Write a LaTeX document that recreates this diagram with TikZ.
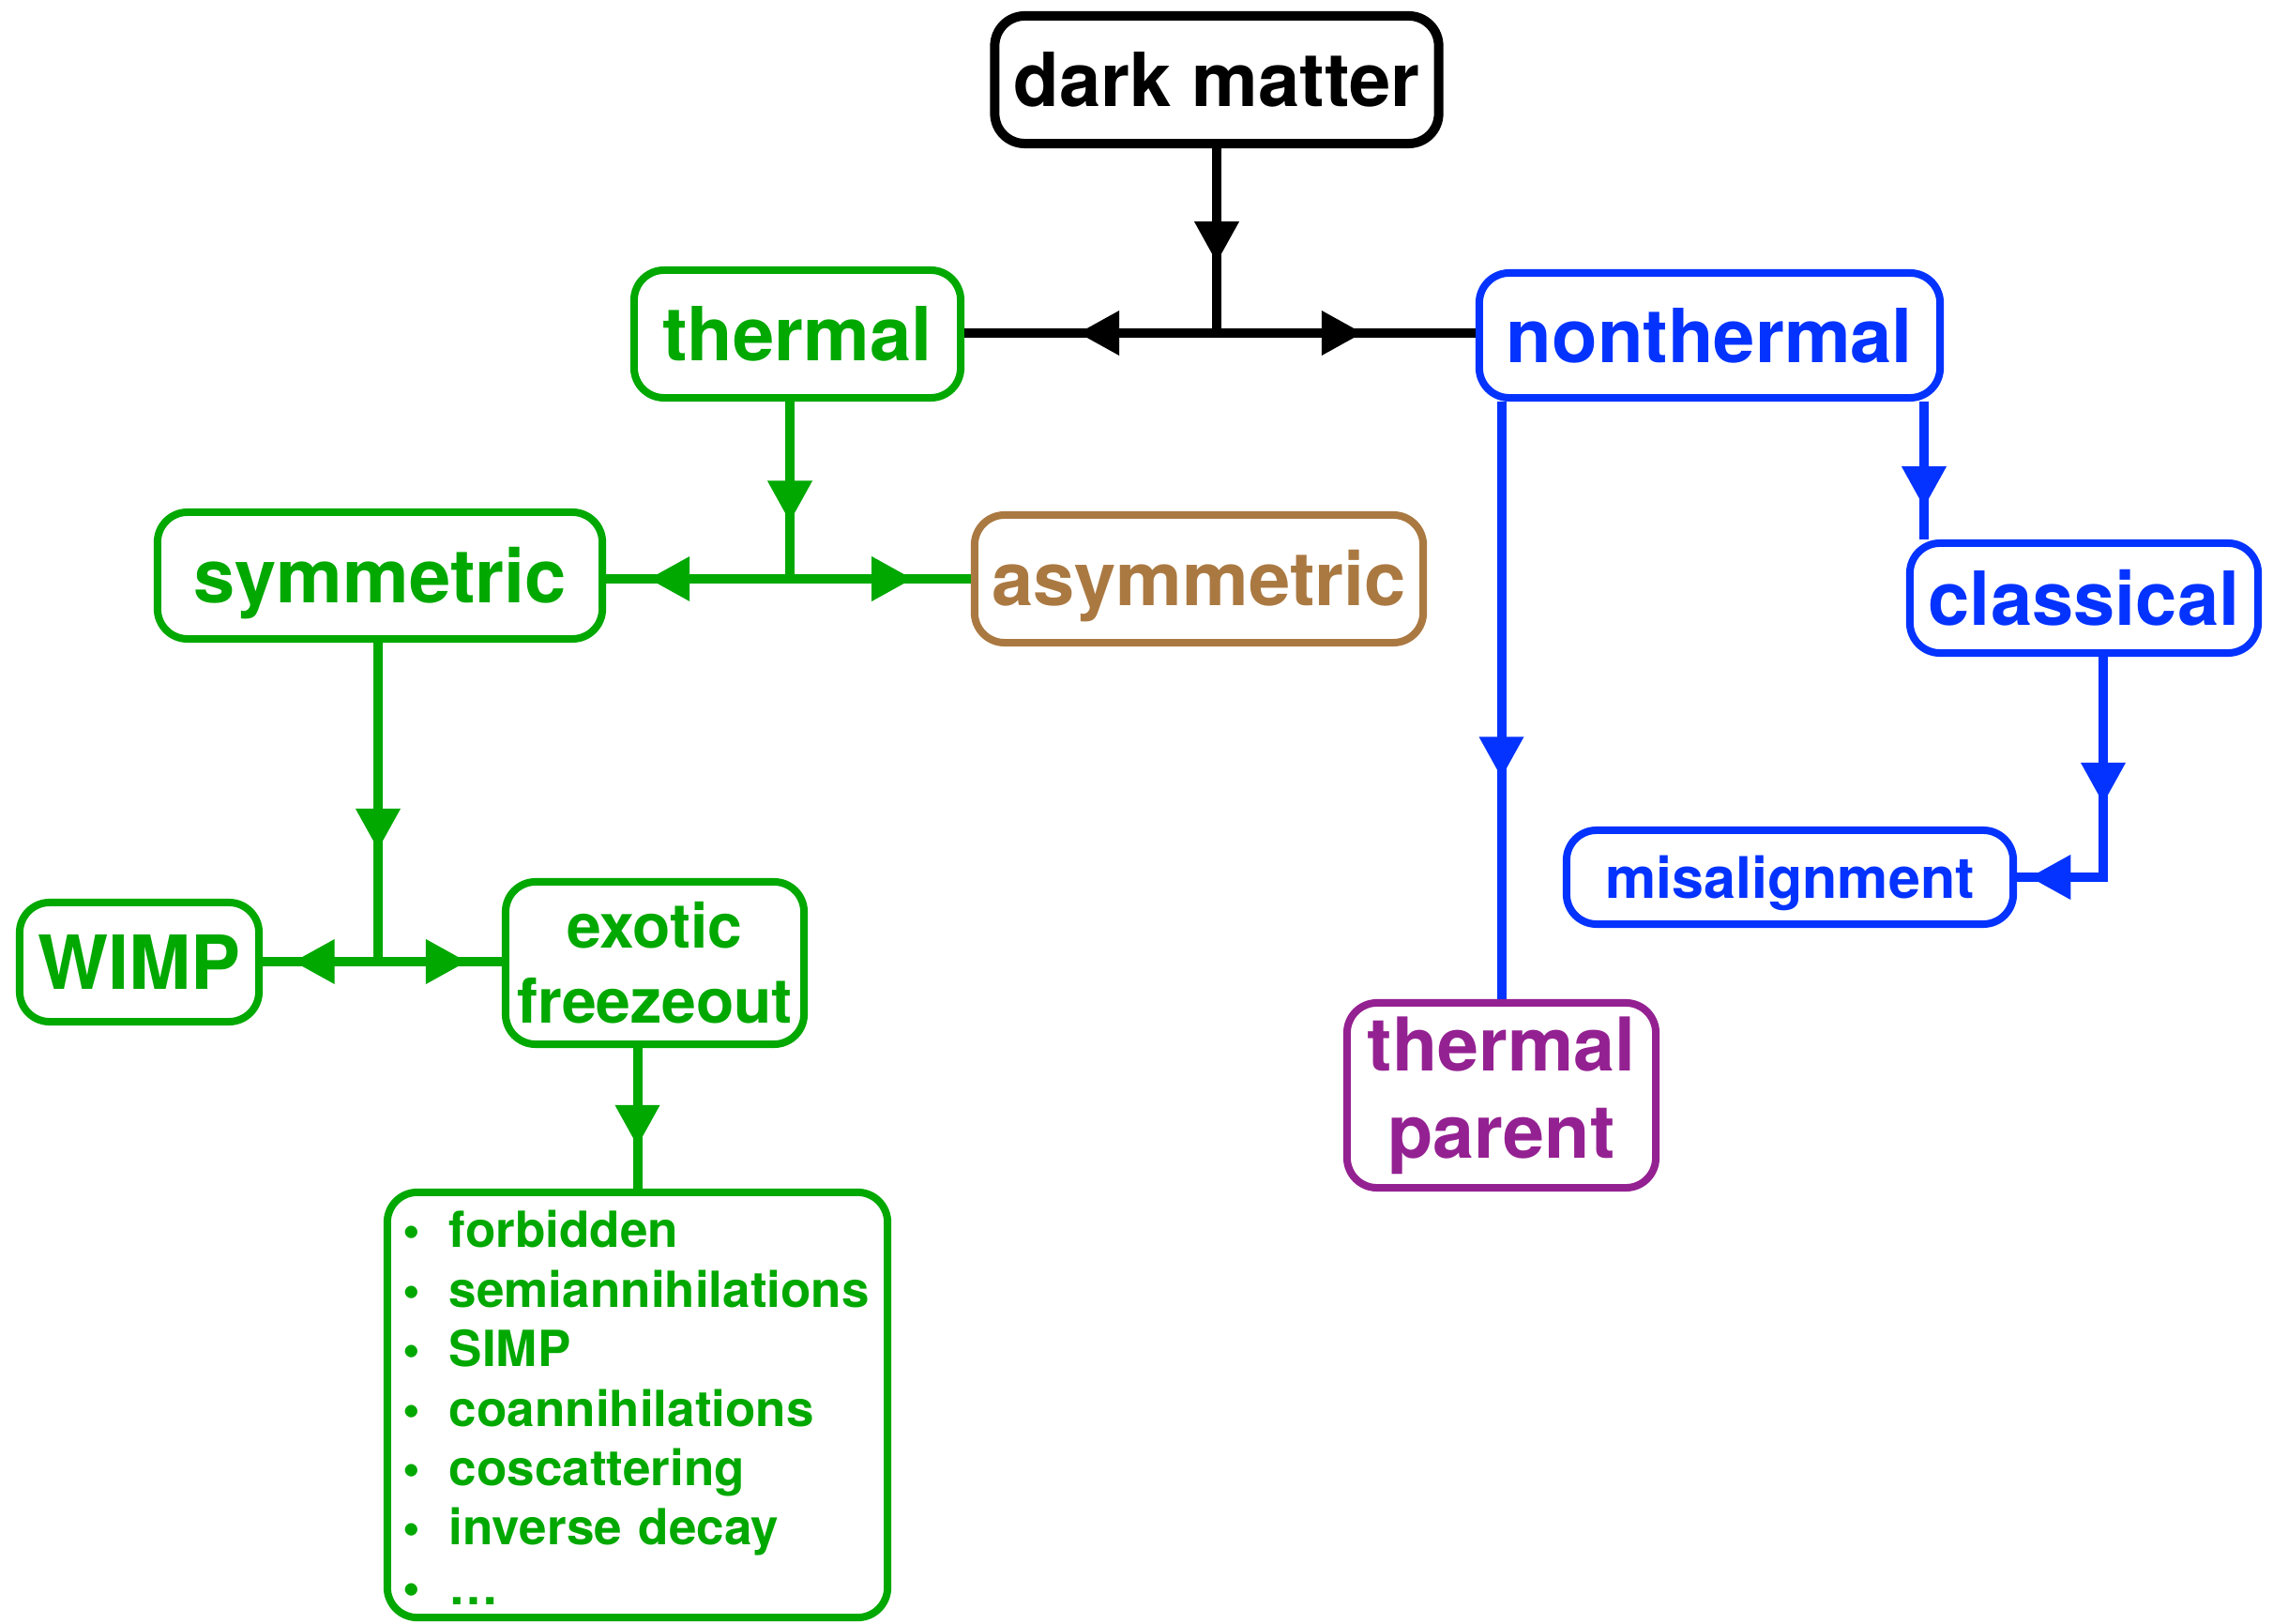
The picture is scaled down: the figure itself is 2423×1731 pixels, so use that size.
\documentclass[tikz,border=0pt]{standalone}
\usepackage{fontspec}
\setmainfont{TeX Gyre Heros}
\usetikzlibrary{arrows.meta,decorations.markings}
\definecolor{dmgreen}{RGB}{0,168,0}
\definecolor{dmblue}{RGB}{4,51,255}
\definecolor{dmbrown}{RGB}{170,121,66}
\definecolor{dmpurple}{RGB}{148,33,146}
\newcommand\lstbullet{\makebox[0.49cm][l]{\textbullet}}
\begin{document}
\begin{tikzpicture}[x=0.01cm,y=-0.01cm,
  >={Triangle[length=0.44cm,width=0.45cm]},
  box/.style={draw=#1, text=#1, rounded corners=0.32cm, line width=0.08cm, inner sep=0pt, fill=white},
  big/.style={font=\fontsize{22.62pt}{27pt}\selectfont\bfseries, text height=0.57cm, text depth=0pt},
  link/.style={line width=0.10cm},
  tipat/.style={postaction={decorate}, decoration={markings, mark=at position #1 with {\arrow{>}}}},
]
\useasboundingbox (0,0) rectangle (2423,1731);

% top level
\node[box=black, big, line width=0.10cm, minimum width=4.73cm, minimum height=1.36cm] (dm) at (1297,85) {dark matter};
\node[box=dmgreen, big, minimum width=3.48cm, minimum height=1.36cm] (th) at (850,356) {thermal};
\node[box=dmblue, big, minimum width=4.91cm, minimum height=1.33cm] (nt) at (1822.5,357.5) {nonthermal};

% thermal branch
\node[box=dmgreen, big, minimum width=4.74cm, minimum height=1.35cm] (sym) at (405,613.5) {symmetric};
\node[box=dmbrown, big, minimum width=4.78cm, minimum height=1.36cm] (asym) at (1278,617) {asymmetric};
\node[box=dmgreen, big, minimum width=2.55cm, minimum height=1.27cm] (wimp) at (148.5,1025.5) {WIMP};
\node[box=dmgreen, minimum width=3.18cm, minimum height=1.73cm, align=center,
      font=\fontsize{18.78pt}{22.76pt}\selectfont\bfseries] (ex) at (698,1026.5) {exotic\\freezeout};
\node[box=dmgreen, minimum width=5.33cm, minimum height=4.53cm, text width=4.99cm, inner xsep=0.17cm,
      align=left, font=\fontsize{15.08pt}{18.05pt}\selectfont\bfseries] (list) at (679.5,1497.5)
  {\lstbullet forbidden\rule{0pt}{0.45cm}\\
   \lstbullet semiannihilations\\
   \lstbullet SIMP\\
   \lstbullet coannihilations\\
   \lstbullet coscattering\\
   \lstbullet inverse decay\\
   \lstbullet \dots};

% nonthermal branch
\node[box=dmblue, big, minimum width=3.71cm, minimum height=1.17cm] (cl) at (2221.5,637.5) {classical};
\node[box=dmblue, minimum width=4.76cm, minimum height=1.00cm,
      font=\fontsize{17.36pt}{20pt}\selectfont\bfseries, text height=0.44cm, text depth=0pt] (ms) at (1908,935) {misalignment};
\node[box=dmpurple, minimum width=3.29cm, minimum height=1.97cm, align=center,
      font=\fontsize{22.48pt}{26.46pt}\selectfont\bfseries] (tp) at (1600.5,1167.5) {thermal\\parent};

% junctions and bends
\coordinate (J1) at (1297,355);
\coordinate (J2) at (842,617);
\coordinate (J3) at (403,1025);
\coordinate (C1) at (2051,0);
\coordinate (K) at (2242,935);

% connectors
\draw[link, tipat=0.62] (dm) -- (J1);
\draw[link, tipat=0.55] (J1) -- (J1 -| th.east);
\draw[link, tipat=0.565] (J1) -- (J1 -| nt.west);

\draw[link, dmgreen, tipat=0.68] (J2 |- th.south) -- (J2);
\draw[link, dmgreen, tipat=0.77] (J2) -- (J2 -| sym.east);
\draw[link, dmgreen, tipat=0.68] (J2) -- (J2 -| asym.west);
\draw[link, dmgreen, tipat=0.65] (J3 |- sym.south) -- (J3);
\draw[link, dmgreen, tipat=0.735] (J3) -- (J3 -| wimp.east);
\draw[link, dmgreen, tipat=0.72] (J3) -- (J3 -| ex.west);
\draw[link, dmgreen, tipat=0.70] (list.north |- ex.south) -- (list.north);

\draw[link, dmblue, tipat=0.63] (tp.north |- nt.south) -- (tp.north);
\draw[link, dmblue, tipat=0.77] (C1 |- nt.south) -- (C1 |- cl.north);
\draw[link, dmblue, postaction={decorate}, decoration={markings,
      mark=at position 0.48 with {\arrow{>}}, mark=at position 0.96 with {\arrow{>}}}]
  (K |- cl.south) -- (K) -- (ms.east);
\end{tikzpicture}
\end{document}
